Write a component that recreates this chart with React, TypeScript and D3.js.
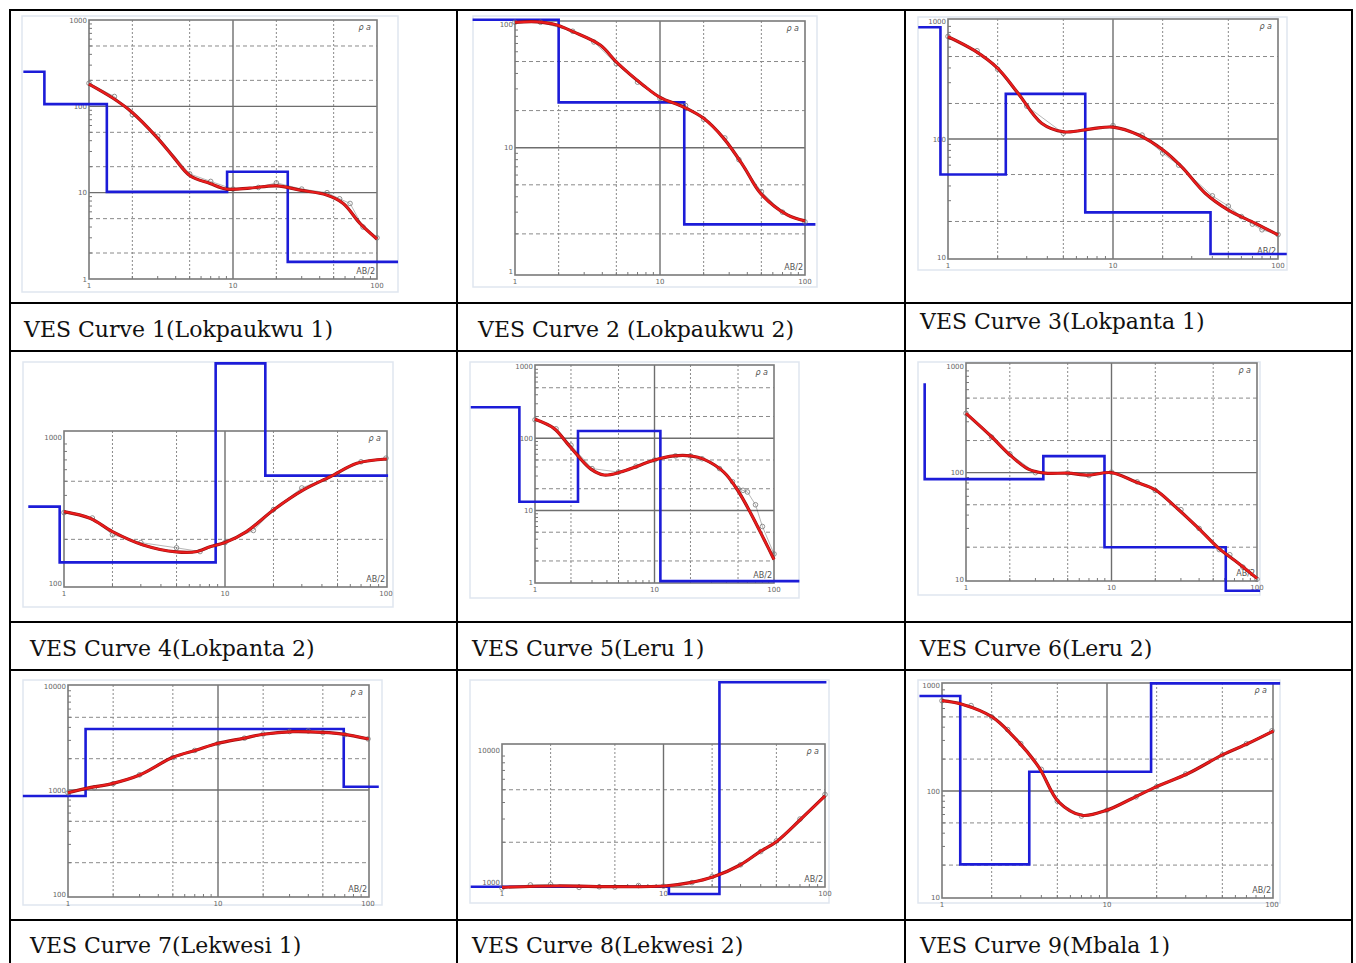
import * as d3 from "d3";

// titles under each sounding
const curveTitles = [
  "VES Curve 1(Lokpaukwu 1)",
  "VES Curve 2 (Lokpaukwu 2)",
  "VES Curve 3(Lokpanta 1)",
  "VES Curve 4(Lokpanta 2)",
  "VES Curve 5(Leru 1)",
  "VES Curve 6(Leru 2)",
  "VES Curve 7(Lekwesi 1)",
  "VES Curve 8(Lekwesi 2)",
  "VES Curve 9(Mbala 1)",
];

// apparent resistivity axis, decade limits per sounding
const rhoDecades = [
  [1, 1000], [1, 100], [10, 1000],
  [100, 1000], [1, 1000], [10, 1000],
  [100, 10000], [1000, 10000], [10, 1000],
];

// fitted (red) curves: AB/2 and rho
const fitAb2 = [
  [1, 1.47, 1.98, 2.95, 3.85, 5.03, 6.92, 9.04, 13.1, 20.1, 29.2, 44.7, 58.3, 76.2, 100],
  [1, 1.41, 1.94, 2.53, 3.87, 5.05, 7.7, 10, 14.6, 20, 27.5, 37.9, 49.3, 75.5, 100],
  [1, 1.45, 2, 2.66, 3.69, 5.04, 7.43, 10, 14.3, 20, 26.1, 36.2, 50, 72.8, 100],
  [1, 1.45, 2, 3.1, 5, 6.7, 8.07, 10, 13.6, 20, 30.7, 45, 66, 101],
  [1, 1.44, 1.86, 2.29, 2.9, 3.78, 5.2, 7.2, 10, 14.6, 20, 26, 38, 49.5, 64, 83, 100],
  [1, 1.5, 2, 2.68, 3.5, 5, 6.95, 10, 14.6, 20, 27.4, 39.7, 54.6, 74.8, 100],
  [1, 1.33, 2, 3, 5, 7.2, 10, 14.7, 20, 31.6, 50, 68, 101],
  [1, 2.19, 5.1, 10.2, 14.6, 20.4, 29.8, 39.6, 50, 70, 100],
  [1, 1.32, 2, 2.66, 3.85, 5.09, 7.05, 10, 14.2, 20, 31.2, 50, 72, 102],
];
const fitRho = [
  [181, 124, 86, 44, 26, 15.7, 12.8, 11.0, 11.3, 12.0, 10.7, 9.4, 7.5, 4.4, 2.9],
  [104, 105, 99, 87, 68, 49, 32, 25.6, 21.3, 17.3, 11.9, 7.0, 4.27, 2.85, 2.55],
  [736, 560, 397, 244, 136, 115, 122, 126, 108, 81, 58, 34.7, 25, 19.3, 15.4],
  [310, 279, 226, 183, 164, 165, 178, 190, 226, 318, 436, 537, 664, 710],
  [183, 137, 85, 57, 38, 31, 34, 41, 50, 57, 57, 51, 34, 19.2, 9.1, 3.9, 2.1],
  [360, 217, 147, 108, 99, 99, 95, 100, 82, 69, 48, 30, 19.5, 14.1, 10.2],
  [942, 1037, 1159, 1393, 2062, 2424, 2812, 3140, 3434, 3637, 3580, 3450, 3090],
  [912, 933, 921, 933, 988, 1096, 1345, 1698, 2020, 2951, 4487],
  [711, 658, 502, 337, 169, 79, 59, 66, 85, 110, 147, 219, 282, 368],
];

// field observations (open circles)
const obsAb2 = [
  [1, 1.5, 2, 3, 5, 7, 10, 15, 20, 30, 45, 55, 65, 80, 100],
  [1, 1.5, 2.5, 3.5, 5, 7, 10, 15, 20, 28, 35, 50, 70, 100],
  [1, 1.5, 2, 3, 5, 10, 15, 20, 25, 40, 50, 60, 70, 80, 100],
  [1, 1.5, 2, 3, 5, 7, 10, 15, 20, 30, 50, 70, 100],
  [1, 1.5, 2, 3, 5, 7, 10, 15, 20, 25, 35, 45, 50, 55, 60, 70, 80, 100],
  [1, 1.5, 2, 3, 5, 7, 10, 15, 20, 30, 40, 55, 65, 80, 100],
  [1, 1.5, 2, 3, 5, 7, 10, 15, 20, 30, 40, 50, 70, 100],
  [1, 1.5, 2, 3, 4, 5, 7, 10, 15, 20, 30, 40, 50, 70, 100],
  [1, 1.5, 2, 2.5, 3, 4, 5, 7, 10, 15, 20, 30, 50, 70, 100],
];
const obsRho = [
  [185, 130, 80, 45, 16.5, 13.5, 11, 11.5, 13, 11, 10, 8.5, 7.5, 4, 3],
  [104, 104, 88, 72, 48, 34, 25, 22, 17, 12, 8, 4.4, 3, 2.5],
  [740, 560, 390, 190, 112, 130, 108, 76, 60, 33, 27, 22, 19, 17, 15.5],
  [305, 280, 215, 190, 175, 165, 190, 230, 320, 450, 560, 680, 720],
  [180, 135, 80, 38, 34, 41, 50, 57, 57, 52, 38, 25, 20, 19, 18, 12, 6, 2.5],
  [360, 215, 150, 100, 99, 94, 101, 82, 68, 45, 30, 19, 17, 13, 10],
  [940, 1050, 1150, 1400, 2050, 2400, 2800, 3150, 3450, 3650, 3700, 3550, 3400, 3100],
  [900, 950, 960, 910, 920, 915, 940, 930, 990, 1100, 1350, 1700, 2050, 3000, 4600],
  [710, 640, 500, 380, 280, 160, 80, 58, 66, 88, 110, 145, 220, 280, 370],
];

// layered models (blue): resistivity of each layer, boundaries, drawn span
const layerRho = [
  [252, 106, 10.2, 17.5, 1.58],
  [109, 23.3, 2.39],
  [885, 50, 241, 23.9, 10.6],
  [335, 139, 3210, 546],
  [268, 13.2, 126, 1.05],
  [689, 87, 143, 20, 7.8],
  [876, 3860, 1075],
  [921, 811, 32600],
  [788, 20.3, 152, 1037],
];
const layerDepth = [
  [0.49, 1.33, 9.1, 24],
  [2.0, 14.7],
  [0.9, 2.24, 6.79, 39],
  [0.94, 8.75, 17.8],
  [0.74, 2.29, 11.2],
  [0.52, 3.4, 8.95, 61],
  [1.31, 68.9],
  [10.8, 22.2],
  [1.29, 3.38, 18.5],
];
const modelSpan = [
  [0.35, 140], [0.51, 118], [0.66, 113],
  [0.6, 103], [0.29, 163], [0.52, 105],
  [0.5, 118], [0.64, 102], [0.73, 112],
];

// page layout of each plot (pixels)
const layout = [
  { img: [22, 16, 398, 292], frame: [89, 377, 20, 279], xPx: [89, 377], yPx: [279, 20], tx: 24, ty: 337 },
  { img: [473, 16, 817, 287], frame: [515, 805, 21, 275], xPx: [515, 805], yPx: [271, 24.4], tx: 478, ty: 337 },
  { img: [918, 17, 1287, 270], frame: [948, 1278, 19, 259], xPx: [948, 1278], yPx: [257, 21], tx: 920, ty: 329 },
  { img: [23, 362, 393, 607], frame: [64, 387, 431, 587], xPx: [64, 386], yPx: [583.3, 437.3], tx: 30, ty: 656 },
  { img: [470, 362, 799, 598], frame: [535, 774, 365, 583], xPx: [535, 774], yPx: [582.7, 366], tx: 472, ty: 656 },
  { img: [918, 362, 1260, 595], frame: [966, 1257, 363, 581], xPx: [966, 1257], yPx: [579.3, 366], tx: 920, ty: 656 },
  { img: [23, 680, 382, 905], frame: [68, 369, 685, 897], xPx: [68, 368], yPx: [894, 686], tx: 30, ty: 953 },
  { img: [470, 680, 829, 903], frame: [502, 825, 744, 887], xPx: [502, 825], yPx: [882, 750], tx: 472, ty: 953 },
  { img: [918, 680, 1280, 903], frame: [942, 1273, 683, 898], xPx: [942, 1272], yPx: [897, 685], tx: 920, ty: 953 },
];

const BLUE = "#1c1cd8";
const RED = "#ec1c1c";
const tickFont = "DejaVu Sans, sans-serif";

function Panel({ i }: { i: number }) {
  const L = layout[i];
  const [fl, fr, ft, fb] = L.frame;
  const [lo, hi] = rhoDecades[i];
  const x = d3.scaleLog().domain([1, 100]).range(L.xPx);
  const y = d3.scaleLog().domain([lo, hi]).range(L.yPx);

  const decades: number[] = [];
  for (let d = lo; d <= hi * 1.001; d *= 10) decades.push(d);
  const yDash: number[] = [];
  const yMinor: number[] = [];
  decades.slice(0, -1).forEach((d) => {
    [2, 5].forEach((m) => yDash.push(d * m));
    [2, 3, 4, 5, 6, 7, 8, 9].forEach((m) => yMinor.push(d * m));
  });
  const ySolid = decades.slice(1, -1);
  const xDot = [2, 5, 20, 50];
  const xMinor = [2, 3, 4, 5, 6, 7, 8, 9, 20, 30, 40, 50, 60, 70, 80, 90];

  const smooth = d3
    .line<[number, number]>()
    .x((d) => x(d[0]))
    .y((d) => y(d[1]))
    .curve(d3.curveCatmullRom.alpha(0.5));
  const straight = d3
    .line<[number, number]>()
    .x((d) => x(d[0]))
    .y((d) => y(d[1]));

  const fit = fitAb2[i].map((a, k) => [a, fitRho[i][k]] as [number, number]);
  const obs = obsAb2[i].map((a, k) => [a, obsRho[i][k]] as [number, number]);

  const rhos = layerRho[i];
  const steps: [number, number][] = [[modelSpan[i][0], rhos[0]]];
  layerDepth[i].forEach((dd, k) => {
    steps.push([dd, rhos[k]]);
    steps.push([dd, rhos[k + 1]]);
  });
  steps.push([modelSpan[i][1], rhos[rhos.length - 1]]);

  const [ix0, iy0, ix1, iy1] = L.img;

  return (
    <g>
      <rect x={ix0} y={iy0} width={ix1 - ix0} height={iy1 - iy0} fill="#fff" stroke="#dfe6ef" strokeWidth={1.5} />
      {/* grid */}
      {xDot.map((v) => (
        <line key={"xd" + v} x1={x(v)} x2={x(v)} y1={ft} y2={fb} stroke="#8a8a8a" strokeWidth={1} strokeDasharray="2,2" />
      ))}
      {yDash.map((v) => (
        <line key={"yd" + v} x1={fl} x2={fr} y1={y(v)} y2={y(v)} stroke="#8a8a8a" strokeWidth={1} strokeDasharray="4,3" />
      ))}
      <line x1={x(10)} x2={x(10)} y1={ft} y2={fb} stroke="#6e6e6e" strokeWidth={1.4} />
      {ySolid.map((v) => (
        <line key={"ys" + v} x1={fl} x2={fr} y1={y(v)} y2={y(v)} stroke="#6e6e6e" strokeWidth={1.4} />
      ))}
      <rect x={fl} y={ft} width={fr - fl} height={fb - ft} fill="none" stroke="#7a7a7a" strokeWidth={1.6} />
      {/* minor ticks */}
      {yMinor.map((v) => (
        <line key={"ym" + v} x1={fl} x2={fl + 3} y1={y(v)} y2={y(v)} stroke="#777" strokeWidth={1} />
      ))}
      {xMinor.map((v) => (
        <line key={"xm" + v} x1={x(v)} x2={x(v)} y1={fb} y2={fb - 3} stroke="#777" strokeWidth={1} />
      ))}
      {/* tick labels */}
      {decades.map((v) => (
        <text key={"yl" + v} x={fl - 2} y={y(v) + 2.5} fontSize={7} fill="#666" textAnchor="end" fontFamily={tickFont}>
          {v}
        </text>
      ))}
      {[1, 10, 100].map((v) => (
        <text key={"xl" + v} x={x(v)} y={fb + 9} fontSize={7} fill="#666" textAnchor="middle" fontFamily={tickFont}>
          {v}
        </text>
      ))}
      <text x={fr - 6} y={ft + 10} fontSize={8} fill="#555" textAnchor="end" fontFamily={tickFont} fontStyle="italic">
        ρ a
      </text>
      <text x={fr - 2} y={fb - 5} fontSize={8} fill="#555" textAnchor="end" fontFamily={tickFont}>
        AB/2
      </text>
      {/* model */}
      <path d={straight(steps) || ""} fill="none" stroke={BLUE} strokeWidth={2.6} />
      {/* observed */}
      <path d={straight(obs) || ""} fill="none" stroke="#333" strokeWidth={0.8} opacity={0.45} />
      {obs.map((d, k) => (
        <circle key={"o" + k} cx={x(d[0])} cy={y(d[1])} r={2.3} fill="none" stroke="#777" strokeWidth={0.8} />
      ))}
      {/* fitted */}
      <path d={smooth(fit) || ""} fill="none" stroke="#9a1010" strokeWidth={3.2} />
      <path d={smooth(fit) || ""} fill="none" stroke={RED} strokeWidth={2} />
      <text x={L.tx} y={L.ty} fontSize={22} fontFamily="DejaVu Serif, serif" fill="#111">
        {curveTitles[i]}
      </text>
    </g>
  );
}

const rowLines = [10, 303, 351, 622, 670, 920];
const colLines = [10, 457, 905, 1352];

export default function App() {
  return (
    <svg
      width={1356}
      height={963}
      style={{ position: "absolute", left: 0, top: 0, background: "#fff" }}
    >
      <rect width={1356} height={963} fill="#fff" />
      {curveTitles.map((_, i) => (
        <Panel key={i} i={i} />
      ))}
      {rowLines.map((v) => (
        <line key={"r" + v} x1={9} x2={1353} y1={v} y2={v} stroke="#000" strokeWidth={2} />
      ))}
      {colLines.map((v) => (
        <line key={"c" + v} x1={v} x2={v} y1={9} y2={963} stroke="#000" strokeWidth={2} />
      ))}
    </svg>
  );
}
